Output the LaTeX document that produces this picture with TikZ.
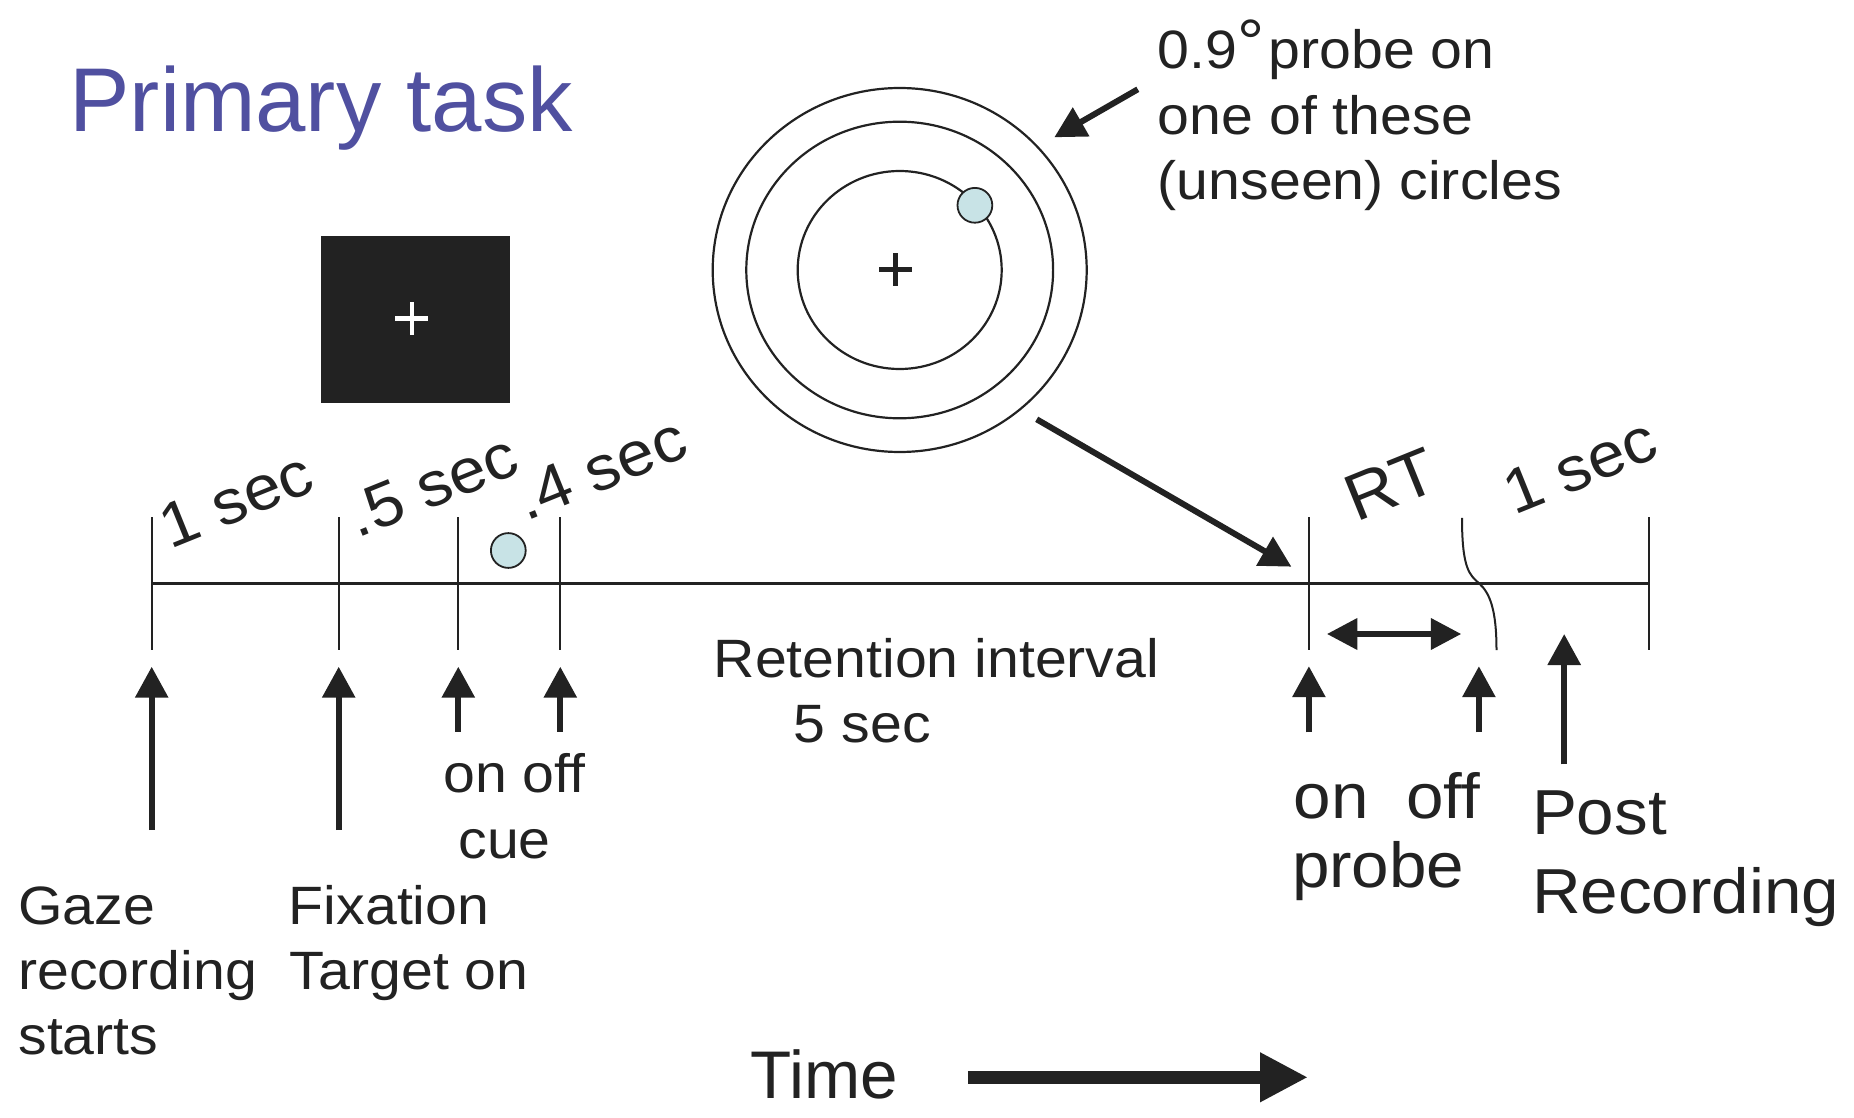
\documentclass[tikz,border=0pt]{standalone}
\usepackage{fontspec}
\setmainfont{Liberation Sans}[FakeStretch=1.06]
\newfontfamily\plainsans{Liberation Sans}
\usetikzlibrary{arrows.meta}
\definecolor{ink}{HTML}{222222}
\definecolor{titleblue}{RGB}{80,80,160}
\definecolor{dotfill}{HTML}{C8E3E6}
\begin{document}
\begin{tikzpicture}[x=0.5pt,y=-0.5pt,
  lbl/.style={inner sep=0pt, anchor=base west, text=ink, font=\fontsize{27}{32}\selectfont},
  biglbl/.style={inner sep=0pt, anchor=base west, text=ink, font=\fontsize{31.8}{37}\selectfont},
  rotlbl/.style={inner sep=0pt, anchor=base west, text=ink, rotate=22, font=\fontsize{31.4}{36}\selectfont},
  titlestyle/.style={inner sep=0pt, anchor=base west, text=titleblue, font=\plainsans\fontsize{45.3}{52}\selectfont},
  timestyle/.style={inner sep=0pt, anchor=base west, text=ink, font=\plainsans\fontsize{33.7}{40}\selectfont},
  tickline/.style={draw=ink, line width=1pt},
  ring/.style={draw=ink, line width=1.1pt},
  upar/.style={draw=ink, line width=3pt, -{Triangle[length=15.5pt,width=16pt]}},
  bigar/.style={draw=ink, line width=3pt, -{Triangle[length=15.5pt,width=16pt]}},
  dblar/.style={draw=ink, line width=3pt, {Triangle[length=15.25pt,width=15.2pt]}-{Triangle[length=15.25pt,width=15.2pt]}},
  timear/.style={draw=ink, line width=6.3pt, -{Triangle[length=24pt,width=23.2pt]}},
  dotstyle/.style={circle, draw=ink, line width=0.9pt, fill=dotfill, minimum size=17.4pt, inner sep=0pt}
]
\useasboundingbox (0,0) rectangle (1854,1118);

% title
\node[titlestyle] (title) at (69,131.9) {Primary task};

% fixation screen
\node[fill=ink, minimum width=94.6pt, minimum height=83.2pt, inner sep=0pt] (screen) at (415.6,319.6) {};
\draw[white, line width=2.2pt] (395.3,318.7) -- (428.3,318.7) (411.8,302.2) -- (411.8,335.2);

% concentric circles
\coordinate (cc) at (899.7,270);
\draw[ring] (cc) ellipse [x radius=187, y radius=182];
\draw[ring] (cc) ellipse [x radius=153.4, y radius=148.3];
\draw[ring] (cc) ellipse [x radius=102, y radius=99];
\draw[ink, line width=2.5pt] (879.2,269.9) -- (912.2,269.9) (895.7,253.4) -- (895.7,286.4);
\node[dotstyle] (probedot) at (974.9,205.3) {};

% probe annotation
\node[lbl] (ann1) at (1157.5,69) {0.9\raisebox{2pt}{\fontsize{32}{32}\selectfont °}\hspace{2pt}probe on};
\node[lbl] (ann2) at (1157.5,134.3) {one of these};
\node[lbl] (ann3) at (1157.5,200) {(unseen) circles};
\coordinate (annA) at (1137.8,89.3);
\coordinate (annT) at (1054.3,137.3);
\draw[bigar] (annA) -- (annT);

% diagonal arrow from circles to probe onset
\coordinate (diagA) at (1036.7,419.3);
\coordinate (diagT) at (1291.4,566.7);
\draw[bigar] (diagA) -- (diagT);

% timeline
\coordinate (tlL) at (151.7,583.3);
\coordinate (tlR) at (1649.2,583.3);
\draw[draw=ink, line width=1.2pt] (tlL) -- (tlR);
\foreach \n/\x in {t1/151.7, t2/338.7, t3/458.3, t4/560.3, t5/1308.9, t6/1649.2}{
  \coordinate (\n top) at (\x,517.3);
  \coordinate (\n bot) at (\x,650);
  \draw[tickline] (\n top) -- (\n bot);
}
\draw[tickline] (1462,517.9) .. controls (1462,570) and (1470,575) .. (1479,583.3)
  .. controls (1490,593) and (1496.5,610) .. (1496.5,650.1);

\node[dotstyle] (cuedot) at (508.3,550.5) {};

% rotated duration labels
\node[rotlbl] (d1) at (169.8,549.3) {1 sec};
\node[rotlbl] (d2) at (357.5,538.7) {.5 sec};
\node[rotlbl] (d3) at (526,521.9) {.4 sec};
\node[rotlbl, font=\fontsize{33}{38}\selectfont] (d4) at (1356,523) {RT};
\node[rotlbl] (d5) at (1514,516.1) {1 sec};

% RT double arrow
\coordinate (rtL) at (1326.9,634);
\coordinate (rtR) at (1461.3,634);
\draw[dblar] (rtL) -- (rtR);

% up arrows
\foreach \n/\x/\yb/\yt in {a1/151.7/830/666.7, a2/338.7/830/666.7, a3/458.3/731.7/666.7, a4/560.3/731.7/666.7,
  a5/1308.9/732.3/666.2, a6/1478.9/732.3/666.2, a7/1564.2/764.4/634}{
  \coordinate (\n b) at (\x,\yb);
  \coordinate (\n t) at (\x,\yt);
  \draw[upar] (\n b) -- (\n t);
}

% labels
\node[lbl] (cue1) at (443,792.3) {on off};
\node[lbl] (cue2) at (458,858.3) {cue};
\node[lbl] (ret1) at (713.4,677.6) {Retention interval};
\node[lbl] (ret2) at (793.5,742.9) {5 sec};
\node[lbl] (gz1) at (18,924) {Gaze};
\node[lbl] (gz2) at (18,989.3) {recording};
\node[lbl] (gz3) at (18,1054) {starts};
\node[lbl] (fx1) at (288.5,924) {Fixation};
\node[lbl] (fx2) at (289.5,989.3) {Target on};
\node[biglbl] (pr1) at (1293.5,818) {on\ \ off};
\node[biglbl] (pr2) at (1291.6,887.7) {probe};
\node[biglbl] (po1) at (1531.6,834.1) {Post};
\node[biglbl] (po2) at (1531.6,913.4) {Recording};

% time arrow
\node[timestyle] (time) at (750,1098.3) {Time};
\coordinate (tmA) at (967.9,1077.3);
\coordinate (tmT) at (1308,1077.3);
\draw[timear] (tmA) -- (tmT);
\end{tikzpicture}
\end{document}
